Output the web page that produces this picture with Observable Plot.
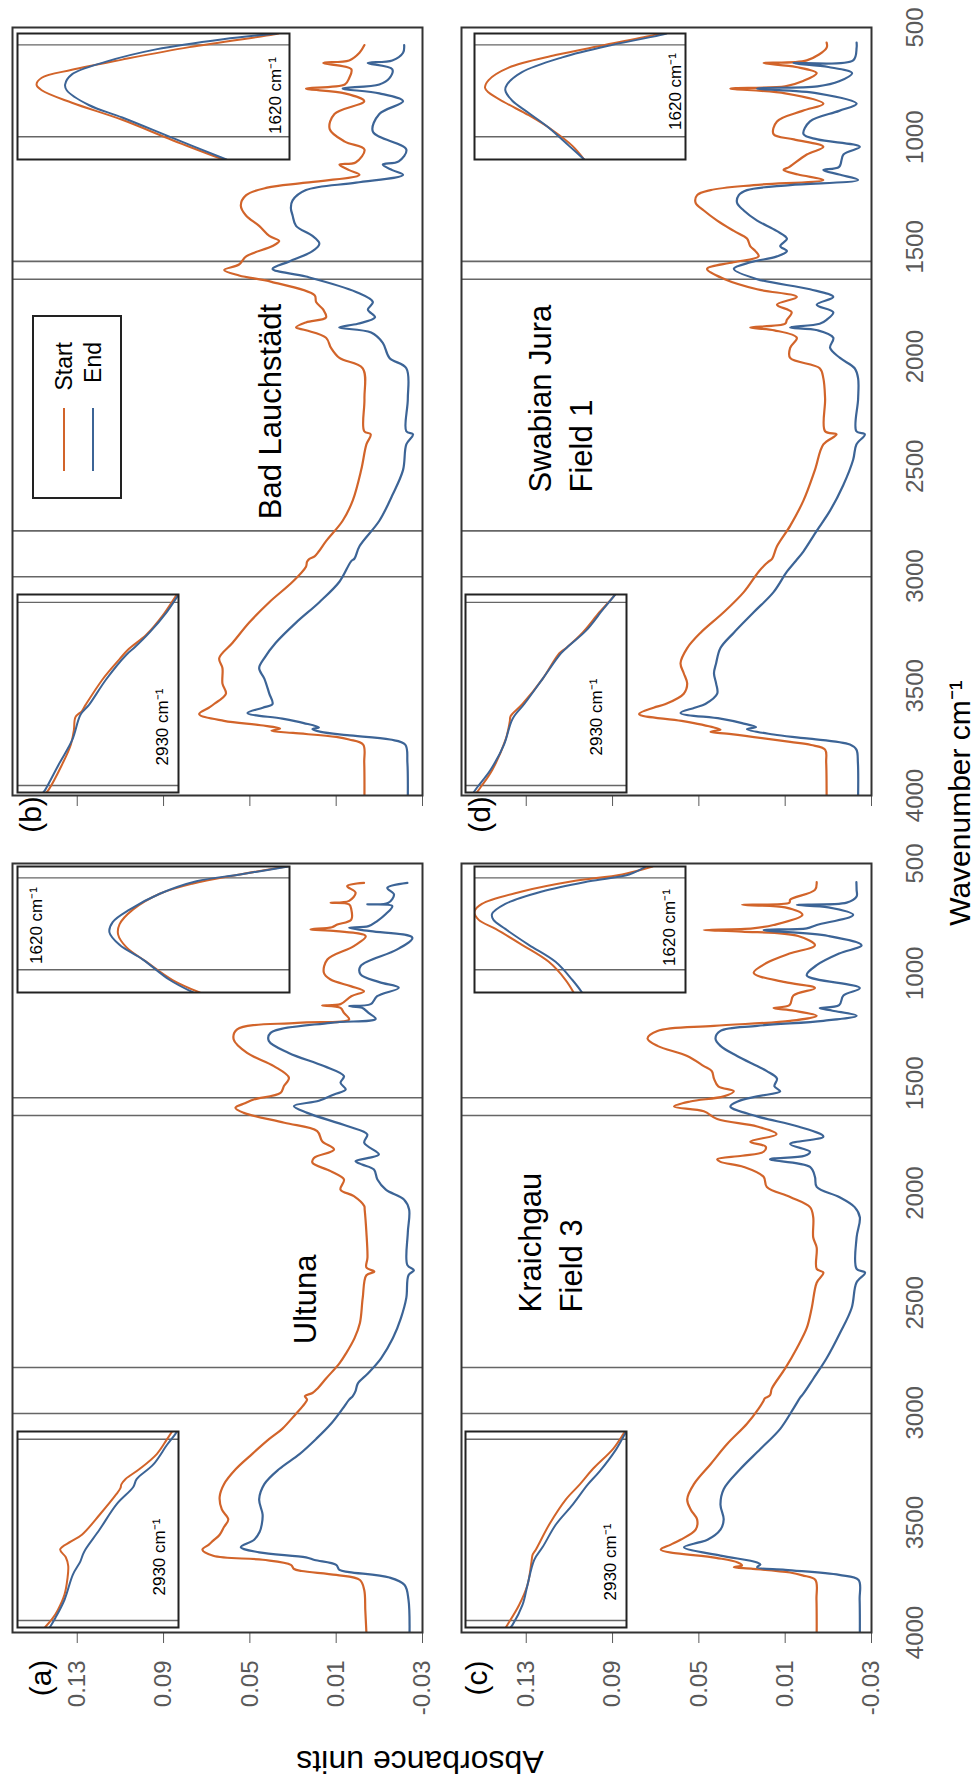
<!DOCTYPE html>
<html><head><meta charset="utf-8">
<script src="https://cdn.jsdelivr.net/npm/d3@7"></script>
<script src="https://cdn.jsdelivr.net/npm/@observablehq/plot@0.6"></script>
<style>
html,body{margin:0;padding:0;background:#fff;overflow:hidden;}
body{width:979px;height:1783px;position:relative;}
#fig{position:absolute;left:0;top:0;width:1783px;height:979px;transform-origin:0 0;transform:translate(0px,1783px) rotate(-90deg);font-family:"Liberation Sans",Arial,sans-serif;background:#fff;}
.box{position:absolute;}
.box svg{display:block;}
.lbl{position:absolute;white-space:nowrap;color:#000;transform:translate(-50%,-50%);}
</style></head><body><div id="fig"></div>
<script>
// ---------- data: [wavenumber cm-1, absorbance] ----------
const seriesNames = ["Start", "End"];
const wnTicks = [4000, 3500, 3000, 2500, 2000, 1500, 1000, 500];
const absTicks = [0.13, 0.09, 0.05, 0.01, -0.03];
const markerLines = [3003, 2794, 1647, 1566];

const ultunaStart = [[4000,-0.004],[3900,-0.0035],[3807,-0.003],[3761,-0.001],[3738,0.010],[3720,0.026],[3711,0.0295],[3692,0.031],[3669,0.044],[3651,0.067],[3623,0.072],[3600,0.069],[3582,0.067],[3555,0.064],[3520,0.062],[3486,0.060],[3440,0.063],[3383,0.064],[3325,0.062],[3256,0.0565],[3188,0.049],[3119,0.041],[3073,0.035],[3004,0.0286],[2970,0.0255],[2940,0.0235],[2924,0.0245],[2910,0.021],[2889,0.0186],[2844,0.0147],[2775,0.0085],[2729,0.0054],[2660,0.0015],[2591,-0.001],[2477,-0.0023],[2374,-0.004],[2358,-0.0077],[2339,-0.004],[2293,-0.0045],[2179,-0.004],[2075,-0.0032],[2059,-0.003],[2014,0.0018],[1984,0.008],[1938,0.0064],[1900,0.0126],[1862,0.021],[1840,0.0203],[1802,0.011],[1764,0.0165],[1718,0.0188],[1680,0.034],[1635,0.0528],[1612,0.0567],[1590,0.052],[1574,0.0482],[1544,0.0358],[1513,0.0342],[1475,0.0319],[1422,0.0389],[1362,0.0513],[1301,0.0575],[1255,0.0559],[1225,0.028],[1210,0.004],[1180,0.0064],[1157,0.008],[1146,0.0165],[1140,0.008],[1104,0.003],[1081,-0.0029],[1058,0.0033],[1028,0.0126],[997,0.0157],[937,0.0141],[876,0.0018],[831,-0.0037],[808,0.010],[800,0.0219],[790,0.012],[778,0.0095],[755,0.003],[709,0.003],[686,0.004],[679,0.0126],[670,0.004],[633,0.001],[603,0.0049],[588,-0.0029]];
const ultunaEnd = [[4000,-0.024],[3850,-0.0235],[3784,-0.0217],[3750,-0.0147],[3725,0.004],[3715,0.0085],[3692,0.010],[3670,0.020],[3658,0.024],[3635,0.0457],[3612,0.0542],[3578,0.048],[3543,0.0455],[3509,0.0445],[3463,0.0441],[3394,0.0457],[3325,0.0433],[3256,0.0364],[3188,0.027],[3119,0.0193],[3050,0.0124],[2981,0.007],[2940,0.004],[2924,0.0023],[2900,0.001],[2867,0.0],[2821,-0.0047],[2752,-0.0108],[2660,-0.0163],[2569,-0.020],[2477,-0.0225],[2374,-0.0235],[2351,-0.026],[2328,-0.023],[2179,-0.0232],[2075,-0.0238],[2029,-0.0214],[1984,-0.013],[1938,-0.0091],[1893,-0.0075],[1870,-0.002],[1855,0.001],[1840,-0.005],[1824,-0.0098],[1771,-0.003],[1733,-0.0044],[1695,0.0049],[1635,0.0234],[1604,0.0296],[1580,0.018],[1551,0.011],[1529,0.0056],[1498,0.008],[1468,0.0064],[1422,0.0157],[1362,0.032],[1308,0.0412],[1271,0.0404],[1225,0.0126],[1207,-0.0083],[1180,-0.005],[1157,-0.002],[1149,0.004],[1140,-0.006],[1104,-0.009],[1066,-0.019],[1040,-0.010],[1005,-0.0013],[967,-0.0013],[891,-0.0183],[838,-0.0253],[808,-0.006],[793,0.004],[785,-0.005],[762,-0.009],[730,-0.013],[694,-0.016],[686,-0.0044],[680,-0.014],[641,-0.0168],[611,-0.0137],[588,-0.023]];

const badStart = [[4000,-0.0031],[3850,-0.003],[3768,-0.0025],[3745,0.004],[3733,0.010],[3715,0.030],[3705,0.040],[3695,0.036],[3680,0.045],[3660,0.062],[3629,0.0735],[3600,0.069],[3583,0.0666],[3536,0.0611],[3490,0.0627],[3420,0.0627],[3374,0.0642],[3304,0.058],[3212,0.0503],[3119,0.041],[3026,0.0302],[2957,0.024],[2935,0.0235],[2922,0.0224],[2910,0.020],[2887,0.018],[2841,0.0147],[2748,0.007],[2655,0.0023],[2516,-0.0016],[2400,-0.004],[2354,-0.006],[2340,-0.003],[2192,-0.0031],[2053,-0.0023],[2006,0.0085],[1960,0.0124],[1914,0.0147],[1880,0.024],[1867,0.0286],[1844,0.024],[1821,0.0147],[1786,0.016],[1751,0.0193],[1720,0.020],[1659,0.040],[1630,0.055],[1605,0.0619],[1580,0.055],[1543,0.0517],[1496,0.0395],[1473,0.0364],[1450,0.041],[1404,0.0457],[1357,0.0518],[1311,0.0542],[1264,0.0517],[1230,0.042],[1207,0.024],[1172,-0.0008],[1150,0.004],[1125,0.0085],[1115,0.001],[1056,-0.0031],[1020,0.006],[963,0.013],[894,0.0108],[836,-0.003],[800,0.006],[778,0.024],[760,0.006],[731,0.004],[690,0.003],[662,0.016],[650,0.004],[615,-0.0008],[580,-0.0031]];
const badEnd = [[4000,-0.0232],[3850,-0.023],[3768,-0.022],[3745,-0.015],[3725,0.005],[3710,0.0171],[3698,0.021],[3690,0.018],[3670,0.025],[3650,0.035],[3624,0.0511],[3600,0.044],[3583,0.0395],[3536,0.041],[3467,0.0433],[3420,0.0457],[3374,0.0433],[3304,0.038],[3212,0.0286],[3119,0.0178],[3026,0.0085],[2933,0.0031],[2920,0.0015],[2864,-0.0008],[2748,-0.010],[2632,-0.016],[2516,-0.021],[2400,-0.0225],[2354,-0.0256],[2340,-0.0225],[2192,-0.0232],[2053,-0.0225],[2006,-0.0147],[1937,-0.0116],[1890,-0.0062],[1867,0.0086],[1850,0.0],[1821,-0.008],[1786,-0.0047],[1751,-0.007],[1705,0.0008],[1635,0.024],[1600,0.0395],[1566,0.0317],[1519,0.021],[1485,0.0178],[1450,0.021],[1404,0.0286],[1357,0.0302],[1322,0.031],[1288,0.0302],[1241,0.024],[1207,0.0008],[1172,-0.021],[1150,-0.016],[1125,-0.0116],[1110,-0.019],[1056,-0.0225],[975,-0.007],[894,-0.010],[836,-0.021],[800,-0.010],[778,0.007],[760,-0.010],[731,-0.0147],[690,-0.016],[662,-0.0046],[650,-0.016],[615,-0.021],[580,-0.0215]];

const kraStart = [[4000,-0.0046],[3850,-0.0045],[3761,-0.004],[3740,0.002],[3727,0.0077],[3710,0.025],[3703,0.0338],[3695,0.030],[3681,0.032],[3660,0.042],[3623,0.0677],[3600,0.063],[3578,0.0585],[3532,0.0515],[3486,0.0508],[3440,0.0538],[3394,0.0554],[3325,0.0523],[3234,0.0446],[3142,0.0369],[3050,0.0277],[2981,0.0223],[2945,0.020],[2935,0.0195],[2920,0.017],[2890,0.0162],[2798,0.010],[2706,0.0046],[2614,0.0],[2523,-0.0023],[2408,-0.0046],[2362,-0.0077],[2345,-0.0046],[2248,-0.0046],[2202,-0.003],[2110,-0.003],[2064,-0.0015],[2018,0.0077],[1972,0.0185],[1926,0.020],[1881,0.0292],[1858,0.040],[1846,0.0415],[1830,0.030],[1812,0.020],[1789,0.019],[1766,0.0262],[1732,0.014],[1697,0.023],[1663,0.0415],[1628,0.0477],[1606,0.0615],[1583,0.054],[1560,0.0385],[1537,0.0338],[1514,0.041],[1479,0.043],[1445,0.044],[1422,0.0477],[1376,0.0554],[1330,0.0692],[1296,0.0738],[1262,0.0692],[1239,0.043],[1216,0.0077],[1193,-0.0046],[1170,0.006],[1158,0.0154],[1145,0.008],[1101,0.0062],[1067,-0.0038],[1040,0.010],[998,0.0246],[952,0.0185],[910,0.008],[872,-0.0038],[830,0.004],[810,0.030],[803,0.0477],[795,0.025],[780,0.0154],[734,0.002],[700,0.010],[688,0.030],[678,0.008],[665,0.0077],[620,-0.0038],[585,-0.0046]];
const kraEnd = [[4000,-0.0246],[3850,-0.0245],[3761,-0.024],[3738,-0.015],[3715,0.010],[3703,0.023],[3690,0.0215],[3681,0.023],[3650,0.040],[3612,0.0569],[3590,0.050],[3578,0.046],[3532,0.040],[3486,0.0385],[3417,0.040],[3348,0.0385],[3256,0.0308],[3165,0.0215],[3073,0.0123],[2981,0.0062],[2930,0.003],[2912,0.0015],[2844,-0.0031],[2752,-0.0092],[2637,-0.0154],[2523,-0.0208],[2408,-0.023],[2362,-0.027],[2345,-0.0231],[2202,-0.0231],[2110,-0.0246],[2064,-0.0222],[2018,-0.015],[1972,-0.0046],[1926,-0.0038],[1881,-0.0015],[1846,0.017],[1830,0.001],[1812,-0.0015],[1777,0.0077],[1743,-0.0077],[1697,0.004],[1651,0.023],[1606,0.0354],[1583,0.032],[1560,0.023],[1537,0.0123],[1514,0.015],[1479,0.0138],[1445,0.0185],[1422,0.023],[1376,0.0323],[1330,0.040],[1296,0.0423],[1262,0.040],[1239,0.023],[1216,-0.0077],[1193,-0.0231],[1170,-0.012],[1158,-0.006],[1145,-0.015],[1101,-0.017],[1067,-0.0246],[1009,0.0],[963,-0.0046],[910,-0.015],[872,-0.0254],[830,-0.010],[803,0.020],[795,0.0],[780,-0.0046],[734,-0.0215],[700,-0.010],[688,0.0046],[678,-0.0185],[650,-0.0231],[620,-0.0231],[585,-0.023]];

const swaStart = [[4000,-0.0092],[3850,-0.009],[3791,-0.0085],[3770,-0.002],[3756,0.0077],[3720,0.035],[3710,0.0446],[3700,0.040],[3690,0.043],[3660,0.058],[3629,0.0777],[3600,0.071],[3583,0.0654],[3536,0.057],[3490,0.0554],[3443,0.057],[3397,0.0585],[3328,0.0554],[3258,0.0492],[3165,0.0385],[3073,0.0292],[2980,0.0223],[2945,0.019],[2934,0.0177],[2920,0.016],[2864,0.0138],[2771,0.0077],[2655,0.0015],[2516,-0.0038],[2400,-0.0077],[2354,-0.0138],[2340,-0.0085],[2192,-0.0085],[2099,-0.0077],[2053,-0.006],[2006,0.0077],[1960,0.0077],[1914,0.0046],[1880,0.015],[1867,0.0262],[1850,0.010],[1832,0.0092],[1798,0.007],[1763,0.0138],[1728,0.0046],[1693,0.023],[1647,0.038],[1600,0.0462],[1570,0.034],[1543,0.0223],[1519,0.0238],[1496,0.0262],[1462,0.0277],[1427,0.0338],[1380,0.0415],[1334,0.0477],[1299,0.0515],[1264,0.0508],[1241,0.0446],[1218,0.0246],[1195,-0.0077],[1170,0.004],[1149,0.0108],[1135,0.008],[1079,0.0],[1044,-0.0077],[1010,0.006],[986,0.0154],[928,0.0138],[880,0.002],[847,-0.0077],[800,0.010],[778,0.0354],[768,0.01],[745,0.002],[708,-0.0046],[680,0.005],[662,0.020],[650,0.0],[592,-0.0092],[569,-0.0092]];
const swaEnd = [[4000,-0.0238],[3850,-0.0237],[3791,-0.023],[3768,-0.020],[3740,0.000],[3722,0.0154],[3698,0.0277],[3688,0.0235],[3670,0.030],[3650,0.040],[3624,0.0585],[3600,0.052],[3583,0.047],[3536,0.0415],[3490,0.042],[3443,0.043],[3397,0.042],[3328,0.0400],[3258,0.0338],[3165,0.0246],[3073,0.0154],[2980,0.0092],[2930,0.005],[2887,0.0015],[2794,-0.0046],[2702,-0.0108],[2586,-0.0169],[2470,-0.0215],[2400,-0.023],[2354,-0.0269],[2340,-0.023],[2192,-0.0238],[2099,-0.0238],[2053,-0.0222],[2006,-0.0154],[1960,-0.0108],[1914,-0.0123],[1880,-0.005],[1867,0.0077],[1850,-0.006],[1832,-0.0092],[1798,-0.0123],[1763,-0.0046],[1728,-0.0123],[1693,-0.0015],[1647,0.023],[1600,0.0338],[1570,0.026],[1543,0.0138],[1519,0.0092],[1496,0.0123],[1462,0.0092],[1427,0.014],[1380,0.023],[1334,0.0292],[1299,0.0323],[1264,0.0315],[1241,0.0277],[1218,0.0077],[1195,-0.0238],[1170,-0.015],[1149,-0.0077],[1135,-0.015],[1079,-0.017],[1044,-0.0246],[1010,-0.005],[986,0.0015],[928,-0.0015],[880,-0.015],[847,-0.0231],[800,-0.005],[778,0.023],[768,-0.005],[745,-0.015],[708,-0.021],[680,-0.010],[662,0.0062],[650,-0.0215],[592,-0.0231],[569,-0.0231]];

// inset curves: [wavenumber, relative height within inset 0..1]
const ultunaStart2930 = [[3011,0.83],[3000,0.78],[2991,0.75],[2973,0.708],[2955,0.69],[2940,0.685],[2930,0.70],[2921,0.735],[2912,0.67],[2904,0.60],[2881,0.49],[2857,0.385],[2850,0.36],[2846,0.355],[2840,0.33],[2828,0.24],[2811,0.135],[2795,0.075],[2785,0.04]];
const ultunaEnd2930 = [[3011,0.80],[3000,0.765],[2979,0.708],[2950,0.656],[2935,0.61],[2927,0.594],[2921,0.578],[2898,0.49],[2869,0.385],[2849,0.281],[2840,0.26],[2823,0.156],[2800,0.07],[2788,0.02],[2785,0.01]];
const ultunaStart1620 = [[1667,0.33],[1656,0.43],[1640,0.526],[1627,0.60],[1616,0.63],[1607,0.625],[1594,0.576],[1580,0.477],[1571,0.354],[1563,0.182],[1556,0.01]];
const ultunaEnd1620 = [[1667,0.354],[1656,0.44],[1638,0.539],[1625,0.625],[1614,0.662],[1605,0.65],[1594,0.588],[1580,0.477],[1569,0.342],[1563,0.182],[1556,0.004]];
const badStart2930 = [[3011,0.82],[3008,0.807],[2979,0.723],[2957,0.67],[2940,0.65],[2925,0.64],[2918,0.60],[2911,0.577],[2882,0.472],[2859,0.367],[2848,0.314],[2831,0.2],[2808,0.094],[2788,0.021],[2785,0.01]];
const badEnd2930 = [[3011,0.84],[3008,0.828],[2979,0.744],[2951,0.66],[2922,0.608],[2911,0.556],[2882,0.45],[2854,0.325],[2845,0.27],[2828,0.178],[2805,0.073],[2788,0.01],[2785,0.0]];
const badStart1620 = [[1667,0.244],[1650,0.43],[1632,0.615],[1617,0.80],[1606,0.911],[1601,0.93],[1595,0.911],[1588,0.80],[1579,0.615],[1568,0.368],[1557,0.06],[1556,0.04]];
const badEnd1620 = [[1667,0.232],[1648,0.43],[1630,0.615],[1619,0.738],[1606,0.819],[1601,0.825],[1592,0.80],[1581,0.677],[1570,0.491],[1561,0.244],[1556,0.047]];
const kraStart2930 = [[3011,0.75],[3008,0.74],[2985,0.667],[2962,0.615],[2935,0.59],[2927,0.583],[2921,0.5625],[2892,0.479],[2863,0.375],[2846,0.29],[2828,0.208],[2805,0.083],[2788,0.02],[2785,0.01]];
const kraEnd2930 = [[3011,0.72],[3008,0.708],[2985,0.646],[2962,0.615],[2933,0.573],[2918,0.52],[2892,0.4375],[2869,0.333],[2846,0.24],[2831,0.167],[2805,0.0625],[2788,0.01],[2785,0.0]];
const kraStart1620 = [[1667,0.53],[1656,0.568],[1640,0.648],[1625,0.775],[1611,0.90],[1603,0.98],[1596,1.0],[1589,0.965],[1578,0.775],[1569,0.536],[1563,0.30],[1556,0.156]];
const kraEnd1620 = [[1667,0.49],[1656,0.536],[1640,0.616],[1625,0.743],[1611,0.854],[1603,0.91],[1598,0.917],[1589,0.854],[1578,0.68],[1569,0.457],[1563,0.267],[1556,0.187]];
const swaStart2930 = [[3011,0.93],[3005,0.906],[2985,0.833],[2950,0.75],[2930,0.725],[2924,0.72],[2910,0.646],[2881,0.52],[2852,0.417],[2846,0.375],[2828,0.27],[2805,0.167],[2788,0.083],[2785,0.07]];
const swaEnd2930 = [[3011,0.95],[3005,0.927],[2985,0.844],[2956,0.76],[2927,0.708],[2910,0.635],[2881,0.52],[2852,0.406],[2843,0.354],[2826,0.25],[2802,0.146],[2788,0.083],[2785,0.07]];
const swaStart1620 = [[1667,0.48],[1655,0.536],[1641,0.632],[1628,0.743],[1617,0.854],[1608,0.933],[1604,0.95],[1597,0.933],[1586,0.838],[1575,0.616],[1566,0.378],[1557,0.14],[1556,0.12]];
const swaEnd1620 = [[1667,0.48],[1655,0.552],[1639,0.648],[1626,0.743],[1615,0.822],[1606,0.854],[1601,0.846],[1590,0.775],[1577,0.584],[1566,0.346],[1557,0.108],[1556,0.09]];

// ---------- styles / layout ----------
const seriesColors = ["#D2642A", "#3C6496"];
const regularFont = '"Liberation Sans", Arial, sans-serif';
const fig = document.getElementById("fig");

function place(node, left, top) {
  const d = document.createElement("div");
  d.className = "box";
  d.style.left = left + "px";
  d.style.top = top + "px";
  d.appendChild(node);
  fig.appendChild(d);
}
const rowsOf = (start, end, key) => [
  ...start.map(p => ({w: p[0], [key]: p[1], s: "Start"})),
  ...end.map(p => ({w: p[0], [key]: p[1], s: "End"}))
];

const cols = [{left: 0, mL: 150, fw: 769}, {left: 937, mL: 50, fw: 768}];
const rws = [{top: 0, mT: 12, fh: 410, mB: 8}, {top: 440, mT: 21, fh: 410, mB: 100}];

const panels = [
  {letter: "(a)", title: "Ultuna", start: ultunaStart, end: ultunaEnd, c: 0, r: 0, titleAt: [2484, 0.0256], anchor: "middle", letterD: [-45.5, 29],
   i2930: [ultunaStart2930, ultunaEnd2930], i1620: [ultunaStart1620, ultunaEnd1620], l2930: [32, -19], l1620: ["top-left", 67, 19]},
  {letter: "(b)", title: "Bad Lauchstädt", start: badStart, end: badEnd, c: 1, r: 0, titleAt: [2250, 0.0418], anchor: "middle", letterD: [-19, 19],
   i2930: [badStart2930, badEnd2930], i1620: [badStart1620, badEnd1620], l2930: [27, -16], l1620: ["bottom-left", 64, -14]},
  {letter: "(c)", title: "Kraichgau\nField 3", start: kraStart, end: kraEnd, c: 0, r: 1, titleAt: [2543, 0.1199], anchor: "start", letterD: [-45.5, 16],
   i2930: [kraStart2930, kraEnd2930], i1620: [kraStart1620, kraEnd1620], l2930: [27, -16], l1620: ["bottom-left", 65, -16]},
  {letter: "(d)", title: "Swabian Jura\nField 1", start: swaStart, end: swaEnd, c: 1, r: 1, titleAt: [2619, 0.1153], anchor: "start", letterD: [-19, 19],
   i2930: [swaStart2930, swaEnd2930], i1620: [swaStart1620, swaEnd1620], l2930: [37, -30], l1620: ["bottom-left", 68, -10]}
];

const insetBoxes = {
  "2930": {c: [{x: 155, w: 196}, {x: 990, w: 198}], domain: [3011, 2785], rules: [3003, 2794], label: "2930 cm\u207B\u00B9"},
  "1620": {c: [{x: 790, w: 126}, {x: 1623, w: 126}], domain: [1667, 1556], rules: [1647, 1566], label: "1620 cm\u207B\u00B9"}
};
const insetRows = {"2930": [{y: 17, h: 161}, {y: 465, h: 161}], "1620": [{y: 17, h: 272}, {y: 474, h: 211}]};

for (const p of panels) {
  const col = cols[p.c], row = rws[p.r];
  const showY = p.c === 0, showX = p.r === 1;
  const marks = [
    Plot.ruleX(markerLines, {stroke: "#666", strokeWidth: 1.6}),
    Plot.line(rowsOf(p.start, p.end, "a"), {x: "w", y: "a", z: "s", stroke: "s", strokeWidth: 2.2, curve: "catmull-rom", clip: true}),
    Plot.axisY({ticks: absTicks, anchor: "left", tickSize: 10, tickPadding: 18, label: null,
      tickFormat: showY ? (d => d.toFixed(2)) : (() => ""), fontSize: 24, fontFamily: regularFont}),
    Plot.frame({stroke: "#333", strokeWidth: 2}),
    Plot.text([p.title], {x: () => p.titleAt[0], y: () => p.titleAt[1], text: d => d, fontSize: 31, fill: "#000",
      textAnchor: p.anchor, lineAnchor: "middle", lineHeight: 1.33, fontFamily: regularFont}),
    Plot.text([p.letter], {frameAnchor: "top-left", dx: p.letterD[0], dy: p.letterD[1], text: d => d, fontSize: 30, fill: "#000",
      textAnchor: "middle", lineAnchor: "middle", fontFamily: regularFont})
  ];
  if (showX) marks.push(Plot.axisX({ticks: wnTicks, anchor: "bottom", tickSize: 0, tickPadding: 34, label: null,
      tickFormat: d => String(d), fontSize: 24, fontFamily: regularFont}));
  const chart = Plot.plot({
    width: col.mL + col.fw + 10, height: row.mT + row.fh + row.mB,
    marginLeft: col.mL, marginRight: 10, marginTop: row.mT, marginBottom: row.mB,
    x: {domain: [4000, 500], axis: showX ? undefined : null, label: null},
    y: {domain: [-0.03, 0.16], label: null},
    color: {domain: seriesNames, range: seriesColors},
    style: "background: transparent; overflow: visible; max-width: none; color: #595959; font-family: " + regularFont,
    marks
  });
  place(chart, col.left, row.top);

  for (const key of ["2930", "1620"]) {
    const box = insetBoxes[key].c[p.c], rbox = insetRows[key][p.r];
    const pair = key === "2930" ? p.i2930 : p.i1620;
    const lab = key === "2930"
      ? {frameAnchor: "bottom-left", dx: p.l2930[0], dy: p.l2930[1], textAnchor: "start"}
      : {frameAnchor: p.l1620[0], dx: p.l1620[1], dy: p.l1620[2], textAnchor: "middle"};
    const ins = Plot.plot({
      width: box.w, height: rbox.h, margin: 0,
      x: {domain: insetBoxes[key].domain, axis: null},
      y: {domain: [0, 1], axis: null},
      color: {domain: seriesNames, range: seriesColors},
      style: "background: white; overflow: visible; max-width: none; font-family: " + regularFont,
      marks: [
        Plot.ruleX(insetBoxes[key].rules, {stroke: "#666", strokeWidth: 1.4}),
        Plot.line(rowsOf(pair[0], pair[1], "v"), {x: "w", y: "v", z: "s", stroke: "s", strokeWidth: 2, curve: "catmull-rom", clip: true}),
        Plot.text([insetBoxes[key].label], {...lab, text: d => d, lineAnchor: "middle", fontSize: 17, fill: "#000"}),
        Plot.frame({stroke: "#222", strokeWidth: 2})
      ]
    });
    place(ins, box.x, rbox.y);
  }
}

// legend (inside panel b)
const leg = document.createElement("div");
leg.style.cssText = "position:absolute;left:1284px;top:32px;width:184px;height:90px;box-sizing:border-box;border:2px solid #222;background:#fff;font-size:23px;color:#000;";
seriesNames.forEach((name, i) => {
  const ln = document.createElement("div");
  ln.style.cssText = `position:absolute;left:26px;top:${29 + i * 29}px;width:63px;height:0;border-top:2.5px solid ${seriesColors[i]};`;
  const tx = document.createElement("div");
  tx.textContent = name;
  tx.style.cssText = `position:absolute;right:25px;top:${30 + i * 29}px;transform:translateY(-50%);line-height:1;`;
  leg.appendChild(ln); leg.appendChild(tx);
});
fig.appendChild(leg);

// axis titles
const yTitle = document.createElement("div");
yTitle.className = "lbl";
yTitle.textContent = "Absorbance units";
yTitle.style.cssText += "left:22px;top:420px;font-size:32px;transform:translate(-50%,-50%) rotate(-90deg);";
fig.appendChild(yTitle);
const xTitle = document.createElement("div");
xTitle.className = "lbl";
xTitle.textContent = "Wavenumber cm\u207B\u00B9";
xTitle.style.cssText += "left:980px;top:958px;font-size:30px;";
fig.appendChild(xTitle);
</script></body></html>
